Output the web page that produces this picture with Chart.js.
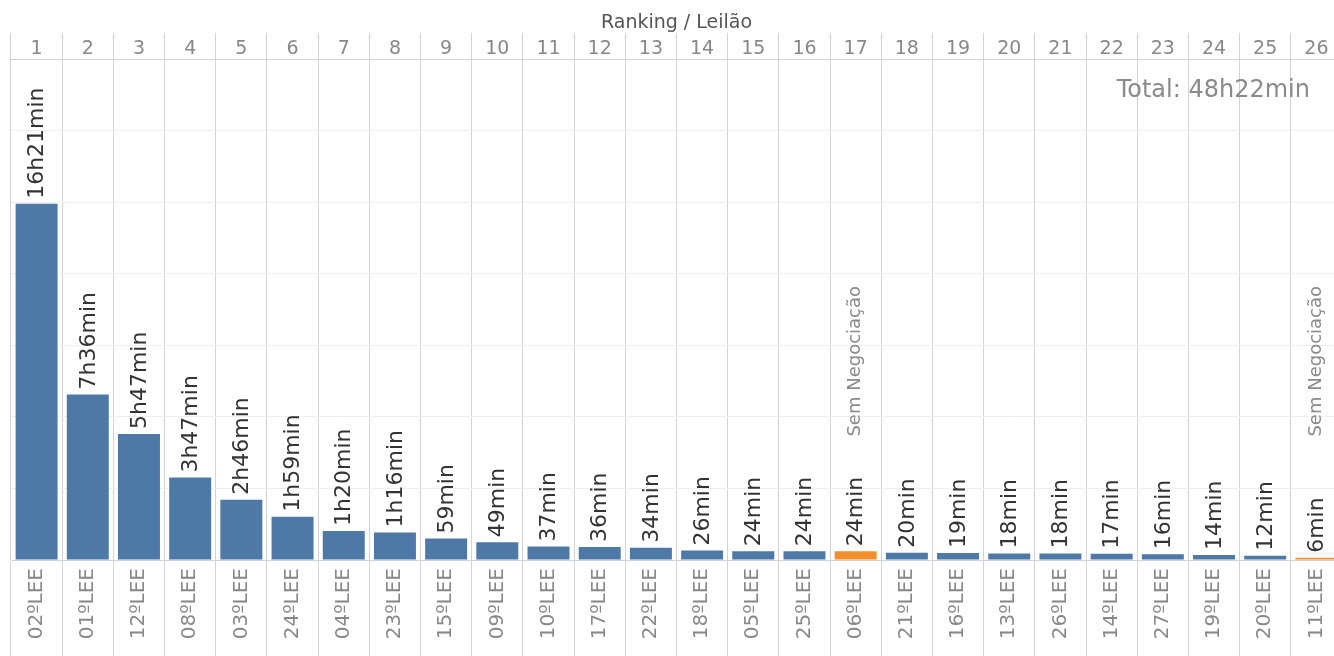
<!DOCTYPE html>
<html>
<head>
<meta charset="utf-8">
<script src="https://cdn.jsdelivr.net/npm/chart.js@4/dist/chart.umd.min.js"></script>
<style>
  html, body { margin: 0; padding: 0; background: #fff; overflow: hidden; }
  #wrap { width: 1342px; height: 656px; position: relative; }
</style>
</head>
<body>
<div id="wrap"><canvas id="rankingChart"></canvas></div>
<script>
// ranking position, auction, negotiation time (minutes)
const ranks = ['1', '2', '3', '4', '5', '6', '7', '8', '9', '10', '11', '12', '13',
    '14', '15', '16', '17', '18', '19', '20', '21', '22', '23', '24', '25', '26'];
const auctions = ['02ºLEE', '01ºLEE', '12ºLEE', '08ºLEE', '03ºLEE', '24ºLEE', '04ºLEE',
    '23ºLEE', '15ºLEE', '09ºLEE', '10ºLEE', '17ºLEE', '22ºLEE', '18ºLEE', '05ºLEE',
    '25ºLEE', '06ºLEE', '21ºLEE', '16ºLEE', '13ºLEE', '26ºLEE', '14ºLEE', '27ºLEE',
    '19ºLEE', '20ºLEE', '11ºLEE'];
const minutes = [981, 456, 347, 227, 166, 119, 80, 76, 59, 49, 37, 36, 34, 26, 24, 24,
    24, 20, 19, 18, 18, 17, 16, 14, 12, 6];
// auctions that closed without negotiation
const noDeal = ['06ºLEE', '11ºLEE'];
const noDealText = 'Sem Negociação';
const noDealLevel = 340;
const totalText = 'Total: 48h22min';

const BLUE = '#4e79a7';
const ORANGE = '#f28e2b';
const SEP = '#d3d3d3';
const FONT = 'DejaVu Sans';

function fmt(m) {
    const h = Math.floor(m / 60);
    const mm = m % 60;
    return h > 0 ? h + 'h' + String(mm).padStart(2, '0') + 'min' : m + 'min';
}

const labelsPlugin = {
    id: 'barLabels',
    afterDatasetsDraw(chart) {
        const ctx = chart.ctx;
        const meta = chart.getDatasetMeta(0);
        const yScale = chart.scales.y;
        ctx.save();
        meta.data.forEach((bar, i) => {
            ctx.save();
            ctx.translate(bar.x + 1, bar.y - 5);
            ctx.rotate(-Math.PI / 2);
            ctx.font = '22px "' + FONT + '"';
            ctx.fillStyle = '#333';
            ctx.textAlign = 'left';
            ctx.textBaseline = 'middle';
            ctx.fillText(fmt(minutes[i]), 0, 0);
            ctx.restore();

            if (noDeal.includes(auctions[i])) {
                ctx.save();
                ctx.translate(bar.x, yScale.getPixelForValue(noDealLevel));
                ctx.rotate(-Math.PI / 2);
                ctx.font = '18px "' + FONT + '"';
                ctx.fillStyle = '#8a8a8a';
                ctx.textAlign = 'left';
                ctx.textBaseline = 'middle';
                ctx.fillText(noDealText, 0, 0);
                ctx.restore();
            }
        });
        const area = chart.chartArea;
        ctx.font = '24px "' + FONT + '"';
        ctx.fillStyle = '#8a8a8a';
        ctx.textAlign = 'right';
        ctx.textBaseline = 'middle';
        ctx.fillText(totalText, area.right - 32, area.top + 32);
        ctx.restore();
    }
};

const ctx = document.getElementById('rankingChart').getContext('2d');
new Chart(ctx, {
    type: 'bar',
    data: {
        labels: auctions,
        datasets: [{
            data: minutes,
            backgroundColor: auctions.map(a => noDeal.includes(a) ? ORANGE : BLUE),
            barPercentage: 0.82,
            categoryPercentage: 1.0
        }]
    },
    options: {
        responsive: true,
        maintainAspectRatio: false,
        animation: false,
        layout: {padding: 0},
        plugins: {
            legend: {display: false},
            tooltip: {enabled: false}
        },
        scales: {
            x: {
                position: 'bottom',
                offset: true,
                grid: {offset: true, color: SEP, tickLength: 96, drawTicks: true},
                border: {color: SEP},
                ticks: {
                    autoSkip: false,
                    minRotation: 90,
                    maxRotation: 90,
                    padding: -88,
                    color: '#888',
                    font: {family: FONT, size: 20}
                },
                afterFit: s => { s.height = 96; }
            },
            x2: {
                type: 'category',
                position: 'top',
                labels: ranks,
                offset: true,
                grid: {offset: true, color: SEP, tickLength: 26, drawOnChartArea: false},
                border: {color: SEP},
                ticks: {
                    autoSkip: false,
                    maxRotation: 0,
                    padding: -27,
                    color: '#888',
                    font: {family: FONT, size: 19}
                },
                title: {
                    display: true,
                    text: 'Ranking / Leilão',
                    color: '#555',
                    font: {family: FONT, size: 19},
                    padding: {top: 12, bottom: 0}
                },
                afterFit: s => { s.height = 59; }
            },
            y: {
                min: 0,
                max: 1380,
                ticks: {display: false, stepSize: 200},
                grid: {color: '#efefef', drawTicks: false},
                border: {display: false},
                afterFit: s => { s.width = 11; }
            }
        }
    },
    plugins: [labelsPlugin]
});
</script>
</body>
</html>
